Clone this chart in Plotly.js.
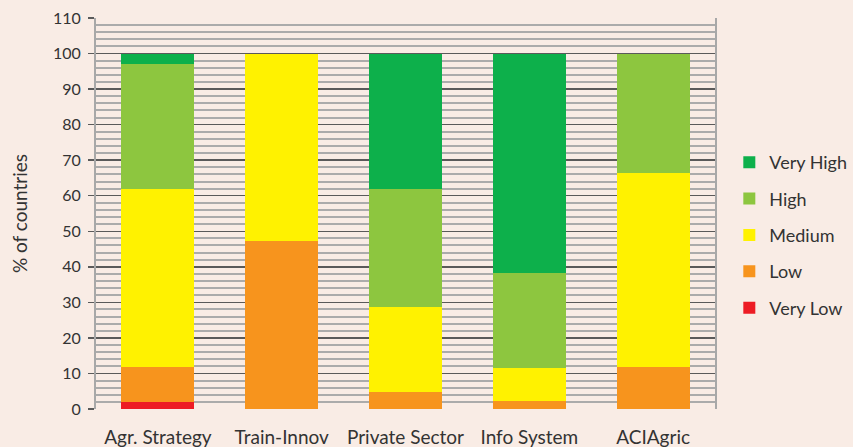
<!DOCTYPE html>
<html>
<head>
<meta charset="utf-8">
<script src="https://cdn.plot.ly/plotly-3.0.1.min.js"></script>
<style>
  html, body { margin: 0; padding: 0; background: #f9ece5; }
  #chart { width: 853px; height: 447px; }
</style>
</head>
<body>
<div id="chart"></div>
<script>
// Share of countries (%) at each rating level, per assessed area
const categories = ["Agr. Strategy", "Train-Innov", "Private Sector", "Info System", "ACIAgric"];
const veryLow  = [2.0, 0, 0, 0, 0];
const low      = [9.9, 47.4, 4.8, 2.3, 11.8];
const medium   = [50.0, 52.6, 23.8, 9.2, 54.6];
const high     = [35.2, 0, 33.3, 26.8, 33.6];
const veryHigh = [2.9, 0, 38.1, 61.7, 0];

const levelNames  = ["Very Low", "Low", "Medium", "High", "Very High"];
const levelValues = [veryLow, low, medium, high, veryHigh];
const levelColors = ["#ed1c24", "#f7941d", "#fff200", "#8dc63f", "#0db04b"];

const font = "Lato, 'Open Sans', sans-serif";

// Stacked bottom-up; legend lists the highest level first
const traces = levelNames.map((name, i) => ({
  type: "bar",
  name: name,
  x: categories,
  y: levelValues[i],
  marker: { color: levelColors[i], line: { width: 0 } },
  legendgroup: name,
  legendrank: levelNames.length - i,
  hoverinfo: "x+y+name"
}));

const layout = {
  width: 853,
  height: 447,
  barmode: "stack",
  bargap: 0.41,
  paper_bgcolor: "#f9ece5",
  plot_bgcolor: "#f9ece5",
  margin: { l: 96, r: 138, t: 18, b: 38 },
  font: { family: font, color: "#333333" },
  xaxis: {
    type: "category",
    showgrid: false,
    showline: false,
    zeroline: false,
    ticks: "",
    ticklabelstandoff: 15,
    tickfont: { size: 19, color: "#333333" }
  },
  yaxis: {
    range: [0, 110],
    dtick: 10,
    tick0: 0,
    showgrid: true,
    gridcolor: "#5a5a5a",
    gridwidth: 1.5,
    showline: true,
    linecolor: "#a8a8a8",
    linewidth: 2,
    mirror: true,
    zeroline: false,
    ticks: "outside",
    ticklen: 6,
    tickwidth: 1.5,
    tickcolor: "#5a5a5a",
    ticklabelstandoff: 4,
    tickfont: { size: 16, color: "#333333" },
    minor: {
      dtick: 2,
      showgrid: true,
      gridcolor: "#ababab",
      gridwidth: 2
    },
    title: { text: "% of countries", font: { size: 19, color: "#333333" }, standoff: 20 }
  },
  legend: {
    xref: "container",
    yref: "container",
    x: 0.855,
    y: 0.678,
    xanchor: "left",
    yanchor: "top",
    traceorder: "grouped",
    tracegroupgap: 10,
    bgcolor: "rgba(0,0,0,0)",
    font: { size: 18, color: "#333333" }
  },
  showlegend: true
};

Plotly.newPlot("chart", traces, layout, { displayModeBar: false, staticPlot: true });
</script>
</body>
</html>
